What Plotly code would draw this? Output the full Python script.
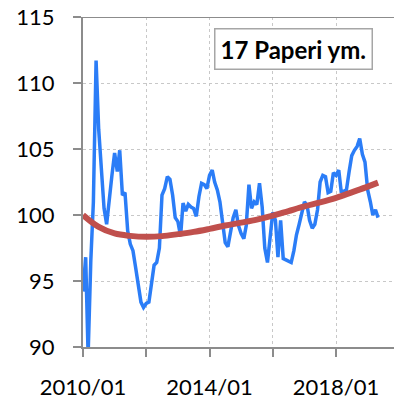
import pandas as pd
import plotly.graph_objects as go

# Monthly index values, starting 2010/01
index_values = [
    94.2, 96.8, 89.4, 96.5, 101.0, 111.7, 106.5, 103.5, 100.5, 99.3, 101.5, 103.0,
    104.7, 103.3, 104.9, 101.5, 101.7, 98.8, 97.8, 97.3, 96.0, 94.5, 93.4, 93.0,
    93.3, 93.4, 95.0, 96.2, 96.4, 97.5, 101.5, 102.0, 102.9, 102.7, 101.5, 99.8,
    99.5, 98.4, 100.9, 100.3, 100.8, 100.6, 100.5, 99.9, 101.4, 102.4, 102.3, 102.0,
    103.0, 103.4, 102.5, 101.9, 101.0, 99.3, 97.9, 97.6, 98.6, 99.8, 100.4, 99.2,
    98.6, 98.2, 99.2, 102.3, 100.5, 101.0, 100.8, 102.4, 100.6, 97.5, 96.4, 98.6,
    100.2, 99.6, 96.8, 99.6, 96.7, 96.6, 96.5, 96.4, 97.3, 98.5, 99.3, 100.2,
    101.0, 100.7, 99.6, 99.0, 99.3, 100.4, 102.5, 103.0, 102.9, 101.7, 101.8, 103.2,
    103.0, 103.4, 101.8, 101.8, 101.9, 103.3, 104.5, 104.9, 105.2, 105.8, 104.6, 104.0,
    101.9, 101.0, 100.0, 100.4, 99.8,
]

# Smoothed trend, sampled every six months (month offsets from 2010/01)
trend_months = [0, 6, 12, 18, 24, 30, 36, 42, 48, 54, 60, 66, 72, 78, 84, 90, 96, 102, 108, 112]
trend_values = [100.0, 99.1, 98.6, 98.42, 98.35, 98.4, 98.55, 98.72, 98.95, 99.2,
                99.42, 99.65, 99.95, 100.3, 100.65, 100.95, 101.3, 101.72, 102.15, 102.45]

tick_dates = ["2010-01-01", "2012-01-01", "2014-01-01", "2016-01-01", "2018-01-01"]
tick_labels = ["2010/01", "", "2014/01", "", "2018/01"]
y_ticks = [90, 95, 100, 105, 110, 115]

start = pd.Timestamp("2010-01-01")
dates = pd.date_range(start, periods=len(index_values), freq="MS")
trend_dates = [start + pd.DateOffset(months=m) for m in trend_months]

AXIS = "#8C8C8C"
GRID = "#C8C8C8"
FONT = "Lato"

fig = go.Figure()
fig.add_trace(go.Scatter(
    x=dates, y=index_values, mode="lines",
    line=dict(color="#2B7DF7", width=3.5),
    hoverinfo="skip", showlegend=False,
))
fig.add_trace(go.Scatter(
    x=trend_dates, y=trend_values, mode="lines",
    line=dict(color="#C0504D", width=6, shape="spline", smoothing=1.0),
    hoverinfo="skip", showlegend=False,
))

fig.update_layout(
    width=394, height=400,
    margin=dict(l=83, r=0, t=17, b=53),
    paper_bgcolor="white", plot_bgcolor="white",
    font=dict(family=FONT, color="black"),
    xaxis=dict(
        type="date", range=["2010-01-01", "2019-11-01"],
        tickmode="array", tickvals=tick_dates, ticktext=tick_labels,
        ticks="outside", ticklen=8, tickwidth=2, tickcolor=AXIS,
        showline=True, linecolor=AXIS, linewidth=2,
        showgrid=True, gridcolor=GRID, gridwidth=1, griddash="3px,3px",
        tickfont=dict(family=FONT, size=22, color="black"),
        ticklabelstandoff=12,
    ),
    yaxis=dict(
        range=[90, 115], tickmode="array", tickvals=y_ticks,
        ticks="outside", ticklen=8, tickwidth=2, tickcolor=AXIS,
        showline=True, linecolor=AXIS, linewidth=2,
        showgrid=True, gridcolor=GRID, gridwidth=1, griddash="3px,3px",
        zeroline=False,
        tickfont=dict(family=FONT, size=22, color="black"),
        ticklabelstandoff=14,
    ),
    shapes=[dict(
        type="line", xref="paper", yref="y", x0=0, x1=1, y0=115, y1=115,
        line=dict(color=AXIS, width=2), layer="above",
    )],
    annotations=[dict(
        xref="paper", yref="paper", x=0.677, y=0.903,
        text="<b>17 Paperi ym.</b>", showarrow=False,
        font=dict(family=FONT, size=24, color="black"),
        bgcolor="white", bordercolor="#A6A6A6", borderwidth=1.5, borderpad=5,
        xanchor="center", yanchor="middle",
    )],
)

fig.write_html("out.html")
